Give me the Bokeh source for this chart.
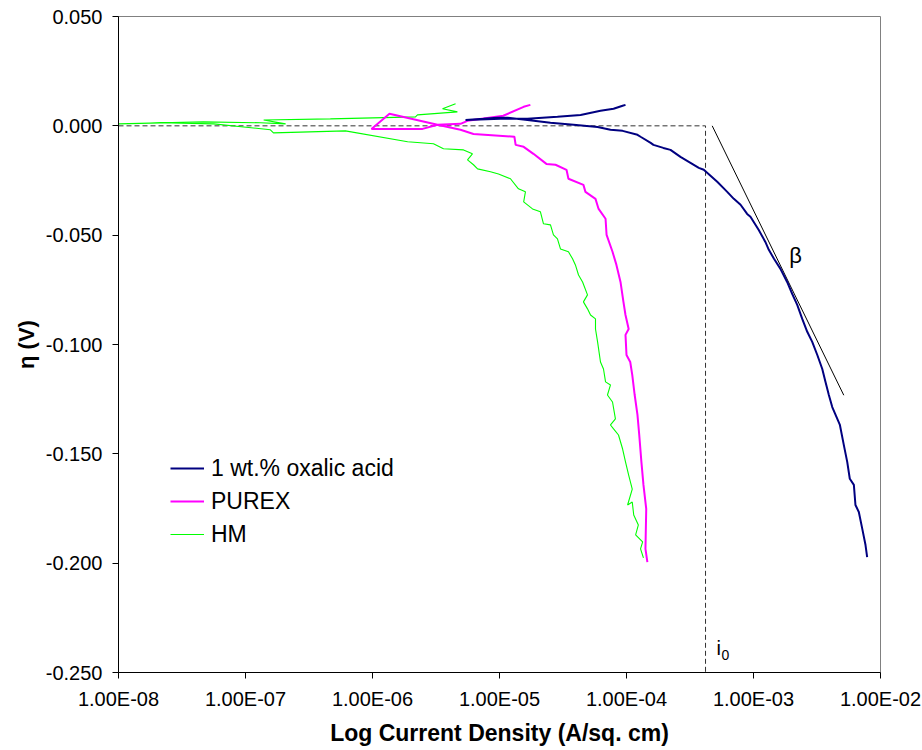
from bokeh.plotting import figure
from bokeh.models import FixedTicker, CustomJSTickFormatter
from bokeh.core.properties import value
from bokeh.embed import file_html
from bokeh.resources import INLINE

# ---------------- data ----------------
x_ticks = [1e-8, 1e-7, 1e-6, 1e-5, 1e-4, 1e-3, 1e-2]
x_tick_labels = ["1.00E-08", "1.00E-07", "1.00E-06", "1.00E-05", "1.00E-04", "1.00E-03", "1.00E-02"]
y_ticks = [-0.25, -0.20, -0.15, -0.10, -0.05, 0.0, 0.05]
y_tick_labels = ["-0.250", "-0.200", "-0.150", "-0.100", "-0.050", "0.000", "0.050"]

series_names = ["1 wt.% oxalic acid", "PUREX", "HM"]

oxalic_current = [7.85e-3, 7.62e-3, 7.18e-3, 6.75e-3, 6.35e-3, 6.17e-3, 5.73e-3, 5.47e-3, 5.14e-3,
                  4.79e-3, 4.43e-3, 4.17e-3, 3.92e-3, 3.69e-3, 3.48e-3, 3.18e-3, 2.90e-3, 2.65e-3,
                  2.42e-3, 2.21e-3, 2.02e-3, 1.84e-3, 1.63e-3, 1.45e-3, 1.32e-3, 1.24e-3, 1.10e-3,
                  9.46e-4, 8.91e-4, 7.91e-4, 7.00e-4, 6.21e-4, 5.18e-4, 4.06e-4, 3.71e-4, 3.19e-4,
                  2.66e-4, 2.22e-4, 1.95e-4, 1.63e-4, 1.55e-4, 1.29e-4, 1.22e-4, 9.32e-5, 7.48e-5,
                  5.92e-5, 3.83e-5, 2.52e-5, 1.66e-5, 1.16e-5, 9.64e-6, 7.48e-6, 5.40e-6,
                  1.02e-5, 1.66e-5, 2.86e-5, 4.35e-5, 6.24e-5, 7.91e-5, 9.32e-5, 9.82e-5]
oxalic_eta = [-0.1972, -0.1917, -0.1842, -0.1766, -0.1734, -0.1642, -0.1614, -0.1537, -0.1459,
              -0.1368, -0.1322, -0.1286, -0.1231, -0.1171, -0.1112, -0.1048, -0.0988, -0.0942,
              -0.0883, -0.0819, -0.0769, -0.0714, -0.0654, -0.0608, -0.0567, -0.0531, -0.0476,
              -0.0416, -0.0403, -0.0361, -0.0334, -0.0302, -0.0256, -0.0201, -0.0192, -0.0169,
              -0.0142, -0.0110, -0.0101, -0.0087, -0.0078, -0.0050, -0.0041, -0.0023, -0.0018,
              -0.0005, 0.0005, 0.0014, 0.0027, 0.0037, 0.0037, 0.0032, 0.0027,
              0.0032, 0.0032, 0.0041, 0.0050, 0.0069, 0.0078, 0.0092, 0.0096]

purex_current = [1.46e-4, 1.41e-4, 1.43e-4, 1.36e-4, 1.31e-4, 1.26e-4, 1.22e-4, 1.16e-4, 1.11e-4,
                 1.07e-4, 1.00e-4, 9.82e-5, 1.04e-4, 9.82e-5, 9.46e-5, 8.97e-5, 8.33e-5, 7.76e-5,
                 6.97e-5, 6.84e-5, 6.03e-5, 5.70e-5, 4.75e-5, 4.58e-5, 3.49e-5, 3.37e-5, 2.76e-5,
                 2.34e-5, 1.85e-5, 1.55e-5, 1.34e-5, 1.31e-5, 6.24e-6, 4.93e-6, 3.25e-6, 1.36e-6,
                 9.82e-7, 2.48e-6, 3.25e-6, 4.93e-6, 5.60e-6, 1.07e-5, 1.55e-5, 1.75e-5]
purex_eta = [-0.1995, -0.1935, -0.1752, -0.1642, -0.1537, -0.1414, -0.1322, -0.1231, -0.1139,
             -0.1080, -0.1048, -0.0956, -0.0929, -0.0865, -0.0805, -0.0714, -0.0636, -0.0576,
             -0.0499, -0.0425, -0.0380, -0.0334, -0.0302, -0.0270, -0.0242, -0.0201, -0.0178,
             -0.0174, -0.0128, -0.0096, -0.0087, -0.0050, -0.0037, -0.0018, 0.0005, 0.0055,
             -0.0014, -0.0014, 0.0005, 0.0009, 0.0023, 0.0046, 0.0087, 0.0096]

hm_current = [1.36e-4, 1.29e-4, 1.34e-4, 1.18e-4, 1.24e-4, 1.14e-4, 1.11e-4, 1.02e-4, 1.11e-4,
              1.04e-4, 9.82e-5, 9.32e-5, 8.65e-5, 7.91e-5, 7.48e-5, 8.18e-5, 7.76e-5, 7.08e-5,
              7.48e-5, 6.84e-5, 6.59e-5, 6.24e-5, 5.92e-5, 5.70e-5, 5.70e-5, 5.21e-5, 4.93e-5,
              4.58e-5, 4.93e-5, 4.51e-5, 4.19e-5, 3.96e-5, 3.76e-5, 3.49e-5, 3.02e-5, 2.86e-5,
              2.66e-5, 2.52e-5, 2.22e-5, 2.10e-5, 1.82e-5, 1.55e-5, 1.60e-5, 1.41e-5, 1.22e-5,
              9.82e-6, 8.49e-6, 6.72e-6, 6.24e-6, 5.60e-6, 6.12e-6, 5.21e-6, 3.62e-6, 3.02e-6,
              1.89e-6, 6.12e-7, 1.66e-7, 1.57e-7, 5.60e-8, 2.14e-8, 1.00e-8,
              4.66e-8, 1.31e-7, 2.07e-7, 1.39e-7, 4.66e-7, 2.18e-6, 2.26e-6, 4.66e-6, 3.56e-6, 4.51e-6]
hm_eta = [-0.1976, -0.1935, -0.1903, -0.1871, -0.1825, -0.1780, -0.1720, -0.1734, -0.1661,
          -0.1597, -0.1537, -0.1478, -0.1414, -0.1386, -0.1368, -0.1340, -0.1263, -0.1231,
          -0.1185, -0.1171, -0.1112, -0.1080, -0.0988, -0.0929, -0.0883, -0.0865, -0.0837,
          -0.0805, -0.0773, -0.0714, -0.0682, -0.0636, -0.0608, -0.0576, -0.0563, -0.0517,
          -0.0499, -0.0453, -0.0448, -0.0393, -0.0380, -0.0348, -0.0302, -0.0288, -0.0242,
          -0.0220, -0.0210, -0.0197, -0.0178, -0.0156, -0.0128, -0.0110, -0.0105, -0.0082,
          -0.0073, -0.0023, -0.0032, -0.0018, 0.0009, 0.0014, 0.0009,
          0.0018, 0.0014, 0.0009, 0.0027, 0.0032, 0.0041, 0.0050, 0.0064, 0.0078, 0.0101]

# construction lines: i0 guide (dashed) and Tafel tangent
guide_current = [1e-8, 4.19e-4, 4.19e-4]
guide_eta = [0.0, 0.0, -0.25]
tangent_current = [4.73e-4, 5.14e-3]
tangent_eta = [0.0, -0.1232]

beta_label = ["β"]
beta_current = [2.14e-3]
beta_eta = [-0.0594]
i_label = ["i"]
i_current = [5.12e-4]
i_eta = [-0.2388]
sub_label = ["0"]
sub_current = [5.60e-4]
sub_eta = [-0.2419]

FONT = "Liberation Sans"

# ---------------- figure ----------------
p = figure(width=922, height=750, x_axis_type="log",
           x_range=(1e-8, 1e-2), y_range=(-0.25, 0.05),
           output_backend="svg", toolbar_location=None,
           min_border_left=118, min_border_right=42,
           min_border_top=16, min_border_bottom=78)

p.background_fill_color = "white"
p.border_fill_color = "white"
p.outline_line_color = "#808080"
p.outline_line_width = 1
p.xgrid.grid_line_color = None
p.ygrid.grid_line_color = None

fmt_code = """
let best = 0, bd = Infinity;
for (let i = 0; i < tvals.length; i++) {
  const d = Math.abs(tick - tvals[i]) / Math.max(Math.abs(tvals[i]), 1e-9);
  if (d < bd) { bd = d; best = i; }
}
return tlabels[best];
"""
p.xaxis.ticker = FixedTicker(ticks=x_ticks, minor_ticks=[])
p.xaxis.formatter = CustomJSTickFormatter(args=dict(tvals=x_ticks, tlabels=x_tick_labels), code=fmt_code)
p.yaxis.ticker = FixedTicker(ticks=y_ticks, minor_ticks=[])
p.yaxis.formatter = CustomJSTickFormatter(args=dict(tvals=y_ticks, tlabels=y_tick_labels), code=fmt_code)

for ax in (p.xaxis[0], p.yaxis[0]):
    ax.axis_line_color = "black"
    ax.axis_line_width = 1
    ax.major_tick_line_color = "black"
    ax.major_tick_in = 0
    ax.major_tick_out = 6
    ax.minor_tick_line_color = None
    ax.major_label_text_font = FONT
    ax.major_label_text_color = "black"
    ax.major_label_text_font_size = "20px"
    ax.axis_label_text_font = FONT
    ax.axis_label_text_font_style = "bold"
    ax.axis_label_text_color = "black"

p.xaxis.axis_label_text_font_size = "23px"
p.yaxis.axis_label_text_font_size = "22px"
p.xaxis.major_label_standoff = 9
p.yaxis.major_label_standoff = 10
p.xaxis.axis_label = "Log Current Density (A/sq. cm)"
p.yaxis.axis_label = "η (V)"
p.xaxis.axis_label_standoff = 7
p.yaxis.axis_label_standoff = 4

# construction lines
p.line(guide_current, guide_eta, line_color="#333333", line_width=1, line_dash="5 3")
p.line(tangent_current, tangent_eta, line_color="black", line_width=1)

# series
p.line(hm_current, hm_eta, line_color="#00FF00", line_width=1.1, legend_label=series_names[2])
p.line(purex_current, purex_eta, line_color="#FF00FF", line_width=2, legend_label=series_names[1])
p.line(oxalic_current, oxalic_eta, line_color="#000080", line_width=2, legend_label=series_names[0])

# annotations
p.text(beta_current, beta_eta, text=beta_label, text_font=value(FONT), text_font_size="22px",
       text_align="center", text_baseline="middle", text_color="black")
p.text(i_current, i_eta, text=i_label, text_font=value(FONT), text_font_size="20px",
       text_align="left", text_baseline="alphabetic", text_color="black")
p.text(sub_current, sub_eta, text=sub_label, text_font=value(FONT), text_font_size="14px",
       text_align="left", text_baseline="alphabetic", text_color="black")

# legend (order as in reference)
lg = p.legend[0]
lg.items = [lg.items[2], lg.items[1], lg.items[0]]
lg.location = (52, 123)
lg.padding = 10
lg.border_line_color = None
lg.background_fill_alpha = 0
lg.label_text_font = FONT
lg.label_text_font_size = "23px"
lg.label_text_color = "black"
lg.glyph_width = 34
lg.glyph_height = 30
lg.label_height = 30
lg.spacing = 3
lg.label_standoff = 7

open("out.html", "w").write(file_html(p, INLINE))
